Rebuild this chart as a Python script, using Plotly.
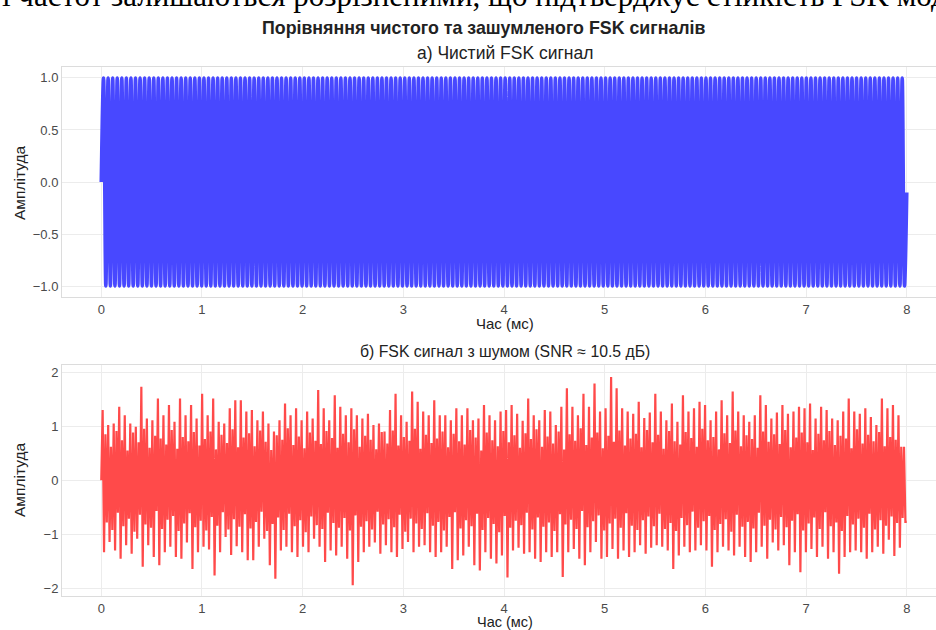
import numpy as np
import plotly.graph_objects as go

# ---------------- data ----------------
x_ticks = [0, 1, 2, 3, 4, 5, 6, 7, 8]
y_ticks_clean = [1.0, 0.5, 0.0, -0.5, -1.0]
y_ticklabels_clean = ["1.0", "0.5", "0.0", "\u22120.5", "\u22121.0"]
y_ticks_noisy = [2, 1, 0, -1, -2]
y_ticklabels_noisy = ["2", "1", "0", "\u22121", "\u22122"]

# extrema of the clean FSK signal (start, alternating peaks/troughs, end)
clean_extrema = [0.0,
 1.0, -1.0, 1.0, -1.0, 1.0, -1.0, 1.0, -1.0, 1.0, -1.0, 1.0, -1.0, 1.0, -1.0, 1.0, -1.0, 1.0, -1.0, 1.0, -1.0,
 1.0, -1.0, 1.0, -1.0, 1.0, -1.0, 1.0, -1.0, 1.0, -1.0, 1.0, -1.0, 1.0, -1.0, 1.0, -1.0, 1.0, -1.0, 1.0, -1.0,
 1.0, -1.0, 1.0, -1.0, 1.0, -1.0, 1.0, -1.0, 1.0, -1.0, 1.0, -1.0, 1.0, -1.0, 1.0, -1.0, 1.0, -1.0, 1.0, -1.0,
 1.0, -1.0, 1.0, -1.0, 1.0, -1.0, 1.0, -1.0, 1.0, -1.0, 1.0, -1.0, 1.0, -1.0, 1.0, -1.0, 1.0, -1.0, 1.0, -1.0,
 1.0, -1.0, 1.0, -1.0, 1.0, -1.0, 1.0, -1.0, 1.0, -1.0, 1.0, -1.0, 1.0, -1.0, 1.0, -1.0, 1.0, -1.0, 1.0, -1.0,
 1.0, -1.0, 1.0, -1.0, 1.0, -1.0, 1.0, -1.0, 1.0, -1.0, 1.0, -1.0, 1.0, -1.0, 1.0, -1.0, 1.0, -1.0, 1.0, -1.0,
 1.0, -1.0, 1.0, -1.0, 1.0, -1.0, 1.0, -1.0, 1.0, -1.0, 1.0, -1.0, 1.0, -1.0, 1.0, -1.0, 1.0, -1.0, 1.0, -1.0,
 1.0, -1.0, 1.0, -1.0, 1.0, -1.0, 1.0, -1.0, 1.0, -1.0, 1.0, -1.0, 1.0, -1.0, 1.0, -1.0, 1.0, -1.0, 1.0, -1.0,
 1.0, -1.0, 1.0, -1.0, 1.0, -1.0, 1.0, -1.0, 1.0, -1.0, 1.0, -1.0, 1.0, -1.0, 1.0, -1.0, 1.0, -1.0, 1.0, -1.0,
 1.0, -1.0, 1.0, -1.0, 1.0, -1.0, 1.0, -1.0, 1.0, -1.0, 1.0, -1.0, 1.0, -1.0, 1.0, -1.0, 1.0, -1.0, 1.0, -1.0,
 1.0, -1.0, 1.0, -1.0, 1.0, -1.0, 1.0, -1.0, 1.0, -1.0, 1.0, -1.0, 1.0, -1.0, 1.0, -1.0, 1.0, -1.0, 1.0, -1.0,
 1.0, -1.0, 1.0, -1.0, 1.0, -1.0, 1.0, -1.0, 1.0, -1.0, 1.0, -1.0, 1.0, -1.0, 1.0, -1.0, 1.0, -1.0, 1.0, -1.0,
 1.0, -1.0, 1.0, -1.0, 1.0, -1.0, 1.0, -1.0, 1.0, -1.0, 1.0, -1.0, 1.0, -1.0, 1.0, -1.0, 1.0, -1.0, 1.0, -1.0,
 1.0, -1.0, 1.0, -1.0, 1.0, -1.0, 1.0, -1.0, 1.0, -1.0, 1.0, -1.0, 1.0, -1.0, 1.0, -1.0, 1.0, -1.0, 1.0, -1.0,
 1.0, -1.0, 1.0, -1.0, 1.0, -1.0, 1.0, -1.0, 1.0, -1.0, 1.0, -1.0, 1.0, -1.0, 1.0, -1.0, 1.0, -1.0, 1.0, -1.0,
 1.0, -1.0, 1.0, -1.0, 1.0, -1.0, 1.0, -1.0, 1.0, -1.0, 1.0, -1.0, 1.0, -1.0, 1.0, -1.0, 1.0, -1.0, 1.0, -1.0,
 1.0, -1.0, 1.0, -1.0, 1.0, -1.0, 1.0, -1.0, 1.0, -1.0, 1.0, -1.0, 1.0, -1.0, 1.0, -1.0, 1.0, -1.0, 1.0, -1.0,
 1.0, -1.0, 1.0, -1.0, 1.0, -1.0, 1.0, -1.0, 1.0, -1.0, 1.0, -1.0,
 -0.1]

# noisy FSK signal: upper spikes and lower spikes, read left to right
noisy_hi = [
 1.30, 1.02, 1.05, 1.36, 1.20, 1.05, 0.99, 1.73, 1.14, 1.11, 1.51, 1.20, 1.39, 1.08, 1.51, 1.20, 1.39, 1.14, 1.60, 1.20, 1.51, 1.08, 1.05, 1.33, 1.48,
 1.48, 1.27, 1.30, 1.11, 1.27, 1.05, 0.90, 1.11, 1.42, 1.20, 1.33, 1.11, 1.27, 1.14, 1.67, 1.33, 1.11, 1.57, 1.36, 1.20, 1.33, 1.20, 1.14, 1.23, 1.02, 1.05, 0.90,
 1.30, 1.60, 1.20, 1.08, 1.64, 1.45, 1.27, 1.20, 1.48, 1.20, 1.20, 1.11, 1.33, 1.20, 1.33, 1.11, 1.14, 1.39, 1.20, 1.11, 1.27, 1.30, 1.39, 1.23, 1.10,
 1.51, 1.20, 1.11, 1.30, 1.27, 1.02, 1.36, 1.70, 1.36, 1.20, 1.60, 1.36, 1.79, 1.27, 1.33, 1.91, 1.70, 1.33, 1.27, 1.23, 1.45, 1.15, 1.25,
 1.60, 1.27, 1.11, 1.42, 1.08, 1.57, 1.27, 1.33, 1.45, 1.39, 1.11, 1.27, 1.48, 1.20, 1.64, 1.27, 1.20, 1.08, 1.20, 1.57, 1.39, 1.14, 1.25,
 1.39, 1.23, 1.27, 1.36, 1.33, 1.42, 1.14, 1.36, 1.30, 1.14, 1.11, 1.27, 1.51, 1.27, 1.23, 1.33, 1.17, 1.02, 1.51, 1.33, 1.39, 1.20, 0.62]
noisy_lo = [
 -1.33, -1.14, -1.30, -1.45, -1.20, -1.36, -1.08, -1.60, -1.20, -1.42, -1.57, -1.33, -1.23, -1.42, -1.45, -1.15, -1.64, -1.33, -1.23, -1.28, -1.76, -1.33, -1.05, -1.38, -1.22,
 -1.33, -1.48, -1.48, -1.23, -1.08, -1.57, -1.82, -1.30, -1.23, -1.33, -1.42, -1.23, -1.33, -1.08, -1.23, -1.51, -1.30, -1.39, -1.23, -1.45, -1.94, -1.51, -1.33, -1.23, -1.15, -1.36, -1.20,
 -1.33, -1.42, -1.27, -1.14, -1.33, -1.23, -1.20, -1.33, -1.42, -1.33, -1.23, -1.64, -1.48, -1.39, -1.23, -1.57, -1.67, -1.33, -1.45, -1.54, -1.39, -1.80, -1.30, -1.25, -1.36,
 -1.33, -1.45, -1.51, -1.33, -1.42, -1.33, -1.79, -1.33, -1.27, -1.45, -1.57, -1.33, -1.14, -1.45, -1.42, -1.27, -1.45, -1.30, -1.42, -1.33, -1.20, -1.36, -1.25,
 -1.20, -1.23, -1.30, -1.64, -1.39, -1.23, -1.33, -1.30, -1.20, -1.30, -1.60, -1.33, -1.23, -1.30, -1.39, -1.23, -1.42, -1.51, -1.33, -1.23, -1.45, -1.15, -1.30,
 -1.20, -1.57, -1.33, -1.70, -1.33, -1.27, -1.42, -1.23, -1.45, -1.33, -1.73, -1.42, -1.33, -1.30, -1.33, -1.45, -1.33, -1.23, -1.36, -1.10, -1.40, -1.25, -0.77]
# smaller swings hidden inside the dense core of the noisy trace (estimated)
core_hi = [
 0.85, 0.62, 0.91, 0.74, 0.55, 0.88, 0.70, 0.95, 0.60, 0.82, 0.77, 0.66, 0.93, 0.58, 0.80, 0.72, 0.89, 0.64, 0.76, 0.90, 0.57, 0.84, 0.69, 0.94, 0.61,
 0.79, 0.87, 0.63, 0.92, 0.71, 0.56, 0.83, 0.75, 0.96, 0.65, 0.81, 0.59, 0.88, 0.73, 0.67, 0.91, 0.78, 0.60, 0.86, 0.70, 0.94, 0.62, 0.82, 0.75, 0.57, 0.89, 0.68,
 0.92, 0.64, 0.80, 0.73, 0.95, 0.58, 0.84, 0.69, 0.77, 0.90, 0.61, 0.86, 0.72, 0.66, 0.93, 0.79, 0.55, 0.88, 0.74, 0.63, 0.91, 0.70, 0.83, 0.60, 0.87,
 0.76, 0.94, 0.62, 0.81, 0.68, 0.90, 0.57, 0.85, 0.73, 0.96, 0.65, 0.79, 0.88, 0.59, 0.82, 0.71, 0.92, 0.64, 0.77, 0.86, 0.61, 0.93, 0.70,
 0.84, 0.58, 0.91, 0.72, 0.66, 0.89, 0.78, 0.62, 0.95, 0.74, 0.80, 0.57, 0.87, 0.69, 0.92, 0.63, 0.83, 0.76, 0.60, 0.90, 0.71, 0.85, 0.67,
 0.93, 0.61, 0.79, 0.88, 0.70, 0.56, 0.86, 0.74, 0.91, 0.65, 0.82, 0.77, 0.59, 0.94, 0.68, 0.84, 0.72, 0.89, 0.63, 0.80, 0.75, 0.62, 0.40]
core_lo = [
 -0.78, -0.92, -0.60, -0.85, -0.71, -0.95, -0.64, -0.82, -0.88, -0.57, -0.90, -0.73, -0.66, -0.94, -0.80, -0.61, -0.87, -0.75, -0.93, -0.68, -0.84, -0.59, -0.91, -0.72, -0.86,
 -0.63, -0.89, -0.77, -0.58, -0.94, -0.81, -0.69, -0.92, -0.62, -0.85, -0.74, -0.96, -0.67, -0.83, -0.90, -0.60, -0.79, -0.88, -0.70, -0.93, -0.65, -0.86, -0.76, -0.91, -0.58, -0.82, -0.72,
 -0.87, -0.64, -0.95, -0.71, -0.80, -0.90, -0.61, -0.84, -0.77, -0.93, -0.68, -0.59, -0.89, -0.74, -0.85, -0.62, -0.92, -0.70, -0.81, -0.96, -0.66, -0.88, -0.75, -0.83, -0.60,
 -0.91, -0.69, -0.86, -0.78, -0.94, -0.63, -0.82, -0.73, -0.90, -0.57, -0.87, -0.76, -0.65, -0.93, -0.80, -0.71, -0.88, -0.61, -0.84, -0.92, -0.74, -0.67, -0.85,
 -0.62, -0.90, -0.79, -0.94, -0.70, -0.83, -0.58, -0.88, -0.76, -0.66, -0.92, -0.81, -0.72, -0.95, -0.64, -0.86, -0.77, -0.89, -0.60, -0.84, -0.73, -0.91, -0.68,
 -0.87, -0.75, -0.63, -0.93, -0.80, -0.69, -0.90, -0.59, -0.85, -0.78, -0.94, -0.66, -0.82, -0.71, -0.88, -0.62, -0.91, -0.74, -0.84, -0.67, -0.79, -0.70, -0.50]

t_start, t_end = 0.0, 8.0  # ms

# ---------------- build series ----------------
noisy = [0.0]
for h, l, ch, cl in zip(noisy_hi, noisy_lo, core_hi, core_lo):
    noisy += [h, l, ch, cl]
noisy = noisy[:-2] + [noisy_lo[-1]]
t_clean = np.linspace(t_start, t_end, len(clean_extrema))
t_noisy = np.linspace(t_start, t_end, len(noisy))

W, H = 936, 630
def px_x(p):
    return p / W
def px_y(p):
    return 1 - p / H

fig = go.Figure()
fig.add_trace(go.Scatter(x=t_clean, y=clean_extrema, mode="lines",
                         line=dict(color="rgb(72,72,255)", width=3.6, shape="spline", smoothing=1),
                         xaxis="x", yaxis="y", showlegend=False, hoverinfo="skip"))
fig.add_trace(go.Scatter(x=t_noisy, y=noisy, mode="lines",
                         line=dict(color="rgb(255,74,74)", width=2.2),
                         xaxis="x2", yaxis="y2", showlegend=False, hoverinfo="skip"))

font_family = "Liberation Sans, Arial, sans-serif"
tick_font = dict(family=font_family, size=13, color="#4a4a4a")
ax_common = dict(showgrid=True, gridcolor="#ececec", gridwidth=1, zeroline=False,
                 showline=True, linecolor="#dcdcdc", linewidth=1, mirror=True,
                 ticks="", tickfont=tick_font)

xr = [-0.39, (W - 102) / 100.6]
fig.update_layout(
    width=W, height=H, margin=dict(l=0, r=0, t=0, b=0),
    paper_bgcolor="white", plot_bgcolor="white",
    xaxis=dict(domain=[px_x(62), 1], anchor="y", range=xr, tickvals=x_ticks, **ax_common),
    yaxis=dict(domain=[px_y(297), px_y(67)], anchor="x", range=[-1.105, 1.105],
               tickvals=y_ticks_clean, ticktext=y_ticklabels_clean, **ax_common),
    xaxis2=dict(domain=[px_x(62), 1], anchor="y2", range=xr, tickvals=x_ticks, **ax_common),
    yaxis2=dict(domain=[px_y(596), px_y(365)], anchor="x2", range=[-2.14, 2.13],
                tickvals=y_ticks_noisy, ticktext=y_ticklabels_noisy, **ax_common),
)

ann = []
def add_text(text, x, y, size, bold=False, angle=0, color="#222222", family=font_family, xanchor="center"):
    ann.append(dict(text=("<b>%s</b>" % text) if bold else text, x=px_x(x), y=px_y(y),
                    xref="paper", yref="paper", showarrow=False, xanchor=xanchor, yanchor="middle",
                    textangle=angle, font=dict(family=family, size=size, color=color)))

# cropped text line of the surrounding document
add_text("і частот залишаються розрізненими, що підтверджує стійкість FSK модуляції",
         0, -5, 31, color="#000000", family="Liberation Serif, Times New Roman, serif", xanchor="left")
add_text("Порівняння чистого та зашумленого FSK сигналів", 484, 28, 17.8, bold=True)
add_text("а) Чистий FSK сигнал", 505, 53, 17.5)
add_text("б) FSK сигнал з шумом (SNR ≈ 10.5 дБ)", 505, 351, 15.8)
add_text("Час (мс)", 505, 323, 15)
add_text("Час (мс)", 505, 622, 14.5)
add_text("Амплітуда", 19, 183, 15.5, angle=-90)
add_text("Амплітуда", 19, 480, 15.5, angle=-90)
fig.update_layout(annotations=ann)

fig.write_html("out.html", config={"displayModeBar": False},
               post_script="document.body.style.margin='0px';document.body.style.overflow='hidden';")
